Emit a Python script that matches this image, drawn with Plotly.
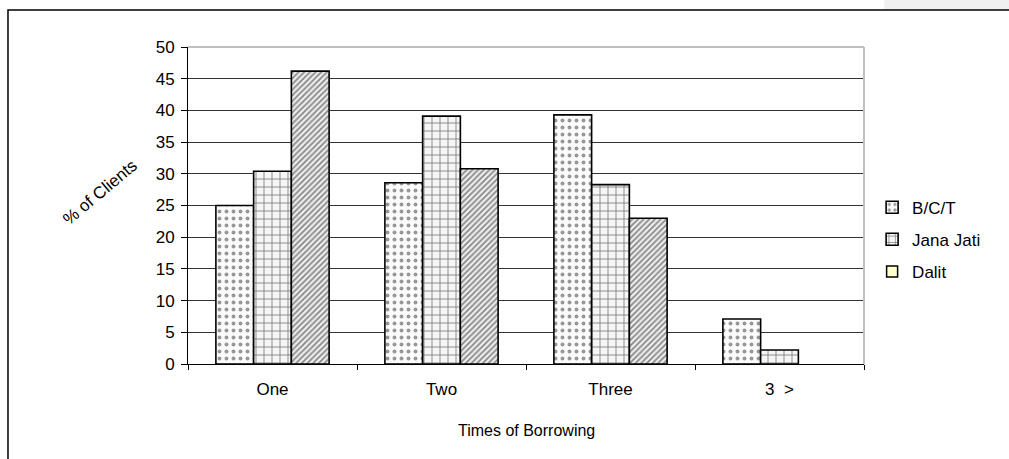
import plotly.graph_objects as go

# Number of times clients borrowed, by caste group
categories = ["One", "Two", "Three", "3  >"]
bct = [25.0, 28.6, 39.3, 7.1]
jana_jati = [30.4, 39.1, 28.3, 2.2]
dalit = [46.2, 30.8, 23.0, 0.0]
y_ticks = [0, 5, 10, 15, 20, 25, 30, 35, 40, 45, 50]

FONT = "Liberation Sans, Arial, sans-serif"
FS = 17


def outline_widths(values):
    # no outline on empty bars
    return [1.6 if v > 0 else 0 for v in values]


fig = go.Figure()

fig.add_trace(go.Bar(
    name="B/C/T", x=categories, y=bct, legendgroup="a",
    marker=dict(color="white",
                line=dict(color="black", width=outline_widths(bct)),
                pattern=dict(shape=".", fgcolor="#333333", bgcolor="#fbfbfb",
                             size=7, solidity=0.25)),
))
fig.add_trace(go.Bar(
    name="Jana Jati", x=categories, y=jana_jati, legendgroup="b",
    marker=dict(color="white",
                line=dict(color="black", width=outline_widths(jana_jati)),
                pattern=dict(shape="+", fgcolor="#000000", bgcolor="#f6f6f6",
                             size=8, solidity=0.2)),
))
fig.add_trace(go.Bar(
    name="Dalit", x=categories, y=dalit, legendgroup="c", showlegend=False,
    marker=dict(color="white",
                line=dict(color="black", width=outline_widths(dalit)),
                pattern=dict(shape="/", fgcolor="#222222", bgcolor="#eeeeee",
                             size=4, solidity=0.45)),
))
# Legend key for Dalit uses a plain pale-yellow square
fig.add_trace(go.Scatter(
    name="Dalit", x=[None], y=[None], mode="markers", legendgroup="c",
    marker=dict(symbol="square", size=11, color="#ffffcc",
                line=dict(color="black", width=1.5)),
))

fig.update_layout(
    width=1009, height=459,
    margin=dict(l=188, r=145, t=47, b=95),
    paper_bgcolor="white", plot_bgcolor="white",
    font=dict(family=FONT, size=FS, color="black"),
    barmode="group", bargap=0.33, bargroupgap=0,
    legend=dict(x=1.012, y=0.55, xanchor="left", yanchor="top",
                traceorder="grouped", tracegroupgap=7,
                font=dict(family=FONT, size=FS, color="black"),
                itemwidth=30, bgcolor="rgba(0,0,0,0)"),
    xaxis=dict(showline=True, linecolor="black", linewidth=1,
               ticks="outside", tickson="boundaries", ticklen=5,
               tickcolor="black", ticklabelstandoff=10,
               tickfont=dict(family=FONT, size=FS),
               showgrid=False, mirror=False),
    yaxis=dict(range=[0, 50], tickvals=y_ticks, showline=True,
               linecolor="black", linewidth=1, ticks="outside", ticklen=6,
               tickcolor="black", showgrid=True, gridcolor="#333333",
               ticklabelstandoff=3,
               tickfont=dict(family=FONT, size=FS),
               gridwidth=1, zeroline=False),
    annotations=[
        dict(text="Times of Borrowing", xref="paper", yref="paper",
             x=0.5, y=-0.211, xanchor="center", yanchor="middle",
             showarrow=False, font=dict(family=FONT, size=16)),
        dict(text="% of Clients", xref="paper", yref="paper",
             x=-0.13, y=0.54, xanchor="center", yanchor="middle",
             textangle=-40, showarrow=False, font=dict(family=FONT, size=FS)),
    ],
    shapes=[
        # light frame on top and right of the plotting area
        dict(type="line", xref="paper", yref="paper", x0=0, x1=1, y0=1, y1=1,
             line=dict(color="#c0c0c0", width=2)),
        dict(type="line", xref="paper", yref="paper", x0=1, x1=1, y0=0, y1=1,
             line=dict(color="#c0c0c0", width=2)),
        # grey strip across the top edge
        dict(type="rect", xref="paper", yref="paper", x0=1.03, x1=1.3,
             y0=1.117, y1=1.2, fillcolor="#f0f0f0", line=dict(width=0),
             layer="below"),
        # outer chart frame
        dict(type="rect", xref="paper", yref="paper", x0=-0.2663, x1=1.3,
             y0=-0.5, y1=1.117, line=dict(color="black", width=1.5),
             fillcolor="rgba(0,0,0,0)"),
    ],
)

fig.write_html("out.html")
